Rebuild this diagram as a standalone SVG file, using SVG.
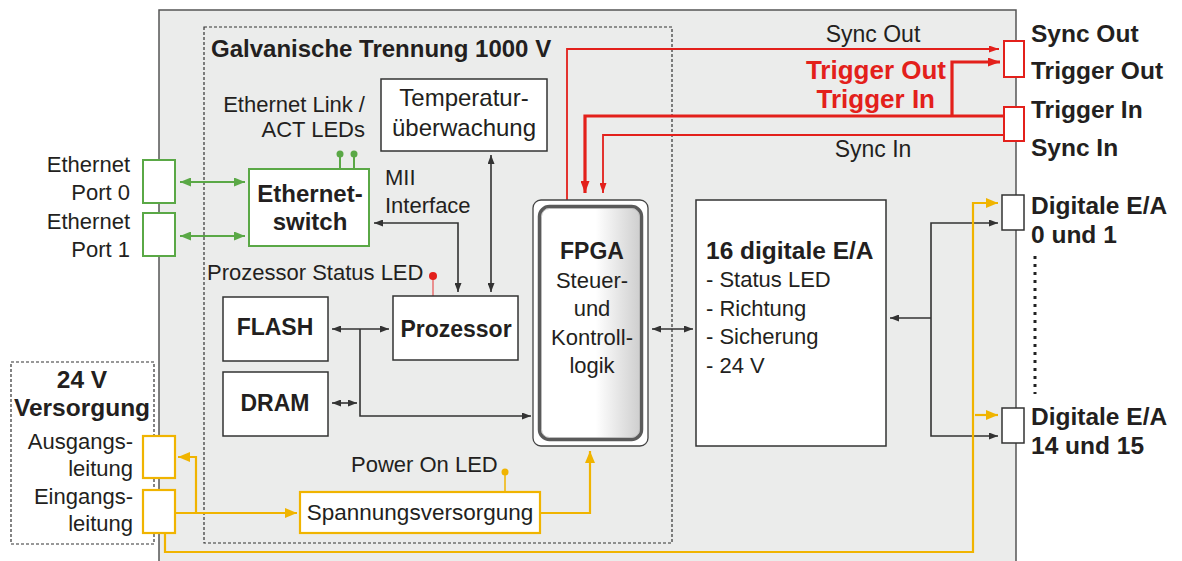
<svg xmlns="http://www.w3.org/2000/svg" width="1182" height="561" viewBox="0 0 1182 561">
<style>
text{font-family:"Liberation Sans",Arial,sans-serif;fill:#231f20}
.r{font-size:22px}
.b{font-size:23px;font-weight:bold}
.bl{font-size:24.5px;font-weight:bold}
.red{font-size:26px;font-weight:bold;fill:#e3201b}
.box{fill:#fff;stroke:#333;stroke-width:1.5}
.gbox{fill:#fff;stroke:#5aa846;stroke-width:2}
.ybox{fill:#fff;stroke:#f0b400;stroke-width:2.2}
.rbox{fill:#fff;stroke:#e3201b;stroke-width:2}
.dash{fill:none;stroke:#333;stroke-width:1.2;stroke-dasharray:3 2}
.k{fill:none;stroke:#333;stroke-width:1.6}
.g{fill:none;stroke:#5aa846;stroke-width:2}
.y{fill:none;stroke:#f0b400;stroke-width:2.2}
.rt{fill:none;stroke:#e3201b;stroke-width:1.8}
.rk{fill:none;stroke:#e3201b;stroke-width:3.2}
.c{text-anchor:middle}
.e{text-anchor:end}
</style>
<defs>
<marker id="ak" markerWidth="9" markerHeight="7" refX="9" refY="3.5" orient="auto-start-reverse" markerUnits="userSpaceOnUse"><path d="M0,0 L9,3.5 L0,7 z" fill="#333"/></marker>
<marker id="ag" markerWidth="11" markerHeight="9" refX="11" refY="4.5" orient="auto-start-reverse" markerUnits="userSpaceOnUse"><path d="M0,0 L11,4.5 L0,9 z" fill="#5aa846"/></marker>
<marker id="ay" markerWidth="12" markerHeight="10" refX="12" refY="5" orient="auto-start-reverse" markerUnits="userSpaceOnUse"><path d="M0,0 L12,5 L0,10 z" fill="#f0b400"/></marker>
<marker id="art" markerWidth="10" markerHeight="7" refX="10" refY="3.5" orient="auto" markerUnits="userSpaceOnUse"><path d="M0,0 L10,3.5 L0,7 z" fill="#e3201b"/></marker>
<marker id="ark" markerWidth="12" markerHeight="9" refX="12" refY="4.5" orient="auto" markerUnits="userSpaceOnUse"><path d="M0,0 L12,4.5 L0,9 z" fill="#e3201b"/></marker>
<linearGradient id="fg" x1="0" y1="0" x2="1" y2="0">
<stop offset="0" stop-color="#ffffff"/><stop offset="0.55" stop-color="#ffffff"/><stop offset="1" stop-color="#cdcdcd"/>
</linearGradient>
</defs>

<g id="gehaeuse"><rect x="159" y="10" width="857" height="570" fill="#ebeceb" stroke="#555" stroke-width="1.5"/></g>
<g id="galvanische-trennung">
<rect class="dash" x="204" y="27" width="468" height="516"/>
<text class="b" x="211" y="57" style="font-size:24px">Galvanische Trennung 1000 V</text>
</g>
<g id="versorgung-24v">
<rect class="dash" x="11" y="362" width="143" height="182"/>
<text class="bl c" x="82" y="388">24 V</text>
<text class="bl c" x="82" y="416">Versorgung</text>
<text class="r e" x="133" y="449">Ausgangs-</text>
<text class="r e" x="133" y="476">leitung</text>
<text class="r e" x="133" y="504">Eingangs-</text>
<text class="r e" x="133" y="531">leitung</text>
</g>

<g id="connectors">
<path class="g" d="M180,182 H245" marker-start="url(#ag)" marker-end="url(#ag)"/>
<path class="g" d="M180,236 H245" marker-start="url(#ag)" marker-end="url(#ag)"/>
<path class="g" d="M340,154 V169 M354,154 V169" stroke-width="1.5"/>
<circle cx="340" cy="154" r="3.5" fill="#5aa846"/>
<circle cx="354" cy="154" r="3.5" fill="#5aa846"/>
<path class="k" d="M374,223 H458 V292" marker-start="url(#ak)" marker-end="url(#ak)"/>
<path class="k" d="M491,155 V292" marker-start="url(#ak)" marker-end="url(#ak)"/>
<path class="k" d="M332,329 H389" marker-start="url(#ak)" marker-end="url(#ak)"/>
<path class="k" d="M360,329 V416 H531" marker-end="url(#ak)"/>
<path class="k" d="M332,403 H357" marker-start="url(#ak)" marker-end="url(#ak)"/>
<path class="k" d="M652,329 H693" marker-start="url(#ak)" marker-end="url(#ak)"/>
<path class="k" d="M998,223 H931 V436 H998" marker-start="url(#ak)" marker-end="url(#ak)"/>
<path class="k" d="M931,318 H890" marker-end="url(#ak)"/>
<path d="M433,276 V296" stroke="#e87070" stroke-width="1.5"/>
<circle cx="433" cy="276" r="4" fill="#e3201b"/>
<path class="rt" d="M567,200 V49 H999" marker-end="url(#art)"/>
<path class="rk" d="M952,117 V62 H1000" marker-end="url(#ark)"/>
<path class="rk" d="M1004,116 H585 V193" marker-end="url(#ark)"/>
<path class="rt" d="M1004,135 H603 V193" marker-end="url(#art)"/>
<path class="y" d="M175,513 H297" marker-end="url(#ay)"/>
<path class="y" d="M196,513 V457 H178" marker-end="url(#ay)"/>
<path class="y" d="M540,513 H590 V451" marker-end="url(#ay)"/>
<path class="y" d="M165,533 V552 H973 V203 H998" marker-end="url(#ay)"/>
<path class="y" d="M975,415 H998" stroke-width="1.6" marker-end="url(#ay)"/>
<path d="M505,472 V492" stroke="#f0b400" stroke-width="1.5"/>
<circle cx="505" cy="472" r="3.5" fill="#f0b400"/>
<path d="M1035,256 V394" stroke="#222" stroke-width="3" stroke-dasharray="3 5"/>
</g>

<g id="ethernet-port-0"><rect class="gbox" x="143" y="160" width="32" height="43"/>
<text class="r e" x="130" y="172">Ethernet</text><text class="r e" x="130" y="200">Port 0</text></g>
<g id="ethernet-port-1"><rect class="gbox" x="143" y="213" width="32" height="43"/>
<text class="r e" x="130" y="229">Ethernet</text><text class="r e" x="130" y="257">Port 1</text></g>
<g id="ethernet-switch"><rect class="gbox" x="249" y="169" width="120" height="77"/>
<text class="b c" x="310" y="202" style="font-size:24px">Ethernet-</text><text class="b c" x="310" y="230" style="font-size:24px">switch</text></g>
<g id="ethernet-leds"><text class="r e" x="365" y="112">Ethernet Link /</text><text class="r e" x="365" y="137">ACT LEDs</text></g>
<g id="temperatur"><rect class="box" x="381" y="79" width="166" height="72"/>
<text class="r c" x="464" y="106" style="font-size:24px">Temperatur-</text><text class="r c" x="464" y="136" style="font-size:24px">überwachung</text></g>
<g id="mii"><text class="r" x="385" y="185">MII</text><text class="r" x="385" y="213">Interface</text></g>
<g id="status-led"><text class="r" x="207" y="280">Prozessor Status LED</text></g>
<g id="prozessor"><rect class="box" x="393" y="296" width="125" height="64"/>
<text class="b c" x="456" y="337">Prozessor</text></g>
<g id="flash"><rect class="box" x="223" y="297" width="105" height="64"/>
<text class="b c" x="275" y="335">FLASH</text></g>
<g id="dram"><rect class="box" x="223" y="372" width="105" height="64"/>
<text class="b c" x="275" y="411">DRAM</text></g>
<g id="fpga">
<rect x="533" y="200" width="115" height="246" rx="8" fill="#fff" stroke="#444" stroke-width="1.3"/>
<rect x="539.5" y="206.5" width="102" height="233" rx="10" fill="url(#fg)" stroke="#5a5a5a" stroke-width="3.5"/>
<rect x="541.5" y="208.5" width="98" height="229" rx="8" fill="none" stroke="#bbb" stroke-width="1"/>
<text class="b c" x="592" y="259">FPGA</text>
<text class="r c" x="592" y="288">Steuer-</text>
<text class="r c" x="592" y="316">und</text>
<text class="r c" x="592" y="345">Kontroll-</text>
<text class="r c" x="592" y="373">logik</text>
</g>
<g id="digitale-ea"><rect class="box" x="696" y="200" width="190" height="246"/>
<text class="b" x="706" y="259" style="font-size:24.5px">16 digitale E/A</text>
<text class="r" x="706" y="287">- Status LED</text>
<text class="r" x="706" y="316">- Richtung</text>
<text class="r" x="706" y="344">- Sicherung</text>
<text class="r" x="706" y="373">- 24 V</text></g>
<g id="spannungsversorgung"><rect class="ybox" x="300" y="492" width="240" height="41"/>
<text class="r c" x="420" y="520" style="font-size:22.5px">Spannungsversorgung</text></g>
<g id="power-led"><text class="r" x="351" y="472">Power On LED</text></g>
<g id="ausgangsleitung"><rect class="ybox" x="143" y="436" width="32" height="42"/></g>
<g id="eingangsleitung"><rect class="ybox" x="143" y="490" width="32" height="43"/></g>
<g id="sync-trigger-out"><rect class="rbox" x="1004" y="41" width="20" height="36"/>
<text class="bl" x="1031" y="42">Sync Out</text><text class="bl" x="1031" y="79">Trigger Out</text></g>
<g id="sync-trigger-in"><rect class="rbox" x="1004" y="107" width="20" height="34"/>
<text class="bl" x="1031" y="118">Trigger In</text><text class="bl" x="1031" y="156">Sync In</text></g>
<g id="labels-sync"><text class="r c" x="873" y="42" style="font-size:23px">Sync Out</text>
<text class="red e" x="946" y="79">Trigger Out</text>
<text class="red e" x="935" y="108">Trigger In</text>
<text class="r c" x="873" y="157" style="font-size:23px">Sync In</text></g>
<g id="digitale-ea-0-1"><rect class="box" x="1002" y="195" width="22" height="35"/>
<text class="bl" x="1031" y="214">Digitale E/A</text><text class="bl" x="1031" y="243">0 und 1</text></g>
<g id="digitale-ea-14-15"><rect class="box" x="1002" y="408" width="22" height="35"/>
<text class="bl" x="1031" y="425">Digitale E/A</text><text class="bl" x="1031" y="454">14 und 15</text></g>
</svg>
